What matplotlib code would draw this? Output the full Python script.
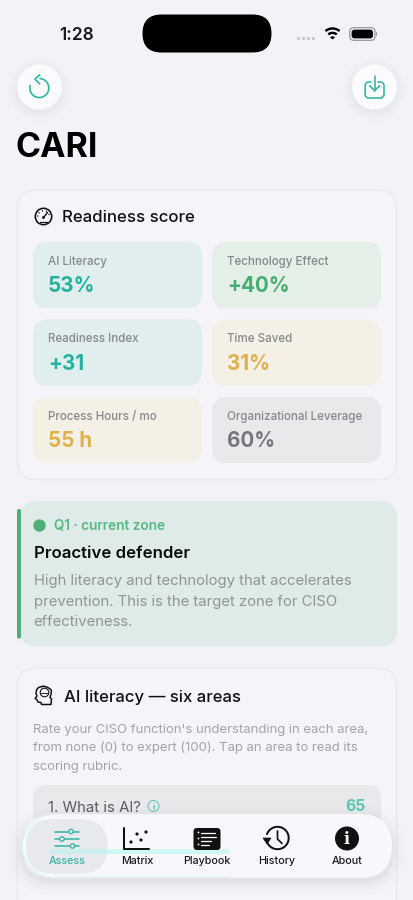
import numpy as np
import matplotlib
matplotlib.use("Agg")
import matplotlib.pyplot as plt
from matplotlib.patches import FancyBboxPatch, Circle, Polygon, Wedge

plt.rcParams['font.family'] = ['Inter', 'DejaVu Sans']

# ---- content ----
status_time = "1:28"
app_title = "CARI"
score_title = "Readiness score"
tile_labels = ["AI Literacy", "Technology Effect", "Readiness Index", "Time Saved",
               "Process Hours / mo", "Organizational Leverage"]
tile_values = ["53%", "+40%", "+31", "31%", "55 h", "60%"]
tile_tones = ["teal", "green", "teal", "amber", "amber", "gray"]
zone_tag = "Q1 · current zone"
zone_name = "Proactive defender"
zone_lines = ["High literacy and technology that accelerates",
              "prevention. This is the target zone for CISO",
              "effectiveness."]
area_title = "AI literacy — six areas"
area_lines = ["Rate your CISO function's understanding in each area,",
              "from none (0) to expert (100). Tap an area to read its",
              "scoring rubric."]
row_label = "1. What is AI?"
row_value = "65"
nav_labels = ["Assess", "Matrix", "Playbook", "History", "About"]

# ---- palette ----
BG = "#F2F2F8"
CARD = "#F5F5F9"
EDGE = "#E8E8EE"
TONE_FILL = {"teal": "#E0EEEE", "green": "#E3EFE7", "amber": "#F5F0E6", "gray": "#E9E9EC"}
TONE_TEXT = {"teal": "#22B2A0", "green": "#46AE72", "amber": "#E0B04A", "gray": "#76767E"}
TEAL = "#35B5A5"
INK = "#111114"

fig = plt.figure(figsize=(4.14, 9.0), dpi=100, facecolor=BG)
ax = fig.add_axes([0, 0, 1, 1])
ax.set_xlim(0, 414)
ax.set_ylim(900, 0)
ax.axis("off")


def px(v):
    return v * 72 / 100


def rrect(x0, y0, x1, y1, r, fc, ec="none", lw=0.0, z=1, alpha=None):
    p = FancyBboxPatch((x0, y0), x1 - x0, y1 - y0,
                       boxstyle=f"round,pad=0,rounding_size={r}",
                       fc=fc, ec=ec, lw=lw, zorder=z, alpha=alpha)
    ax.add_patch(p)
    return p


def label(x, y, s, size, color=INK, weight="normal", ha="left", z=10):
    return ax.text(x, y, s, fontsize=px(size), color=color, fontweight=weight,
                   ha=ha, va="baseline", zorder=z)


def stroke(xs, ys, color, lw=1.5, z=9, cap="round"):
    ax.plot(xs, ys, color=color, lw=px(lw), solid_capstyle=cap,
            solid_joinstyle="round", zorder=z)


def arc(cx, cy, r, a0, a1, color, lw=1.5, z=9, cap="round"):
    t = np.radians(np.linspace(a0, a1, 60))
    stroke(cx + r * np.cos(t), cy - r * np.sin(t), color, lw, z, cap)


def ring(cx, cy, r, color, lw=1.5, z=9, fc="none"):
    ax.add_patch(Circle((cx, cy), r, fc=fc, ec=color, lw=px(lw), zorder=z))


def disc(cx, cy, r, color, z=9):
    ax.add_patch(Circle((cx, cy), r, fc=color, ec="none", zorder=z))


# ---- second card (under the nav) and first ----
rrect(17.5, 668.5, 396.5, 960, 18, CARD, EDGE, 0.9, z=1)
rrect(17.5, 190.5, 396.5, 479.5, 18, CARD, EDGE, 0.9, z=1)

# ---- status bar ----
label(59, 40, status_time, 17.4, "#1A1A1C", "semibold")
rrect(142.5, 14.5, 271.5, 52.5, 19, "#000000", z=5)
for dx in range(4):
    rrect(297 + dx * 5, 37, 300 + dx * 5, 40, 0.8, "#C9C9CD", z=5)
for r in (11, 6.6):
    arc(332.5, 39.5, r, 50, 130, "#000000", 2.4, cap="butt")
ax.add_patch(Wedge((332.5, 39.5), 3.2, 220, 320, fc="#000000", ec="none", zorder=9))
rrect(349.7, 27.7, 375, 40.3, 4, "none", "#8E8E93", 0.8, z=6)
rrect(351.6, 29.6, 373, 38.4, 2.8, "#000000", z=7)
rrect(376, 32, 377, 36, 0.5, "#9A9A9E", z=6)

# ---- round buttons ----
for cx in (39.5, 374.5):
    for i, (grow, a) in enumerate([(9, 0.012), (6, 0.014), (3.5, 0.016), (1.5, 0.018)]):
        disc(cx, 90, 22.5 + grow, "#70708A", z=2)
        ax.patches[-1].set_alpha(a)
    disc(cx, 87, 22.5, "#FBFBFD", z=3)

arc(39.3, 88, 9.5, 85, -195, TEAL, 1.7)
stroke([39.7, 35.0, 39.7], [74.8, 79, 84.0], TEAL, 1.7)
stroke([371, 368.5, 366.5, 365.2, 365.2, 367.5, 381.5, 384, 384, 382.5, 380.5, 378],
       [82, 82, 82.6, 84.5, 95.5, 98, 98, 95.5, 84.5, 82.6, 82, 82], TEAL, 1.6)
stroke([374.6, 374.6], [75.5, 90.5], TEAL, 1.6)
stroke([369.6, 374.6, 379.6], [85.7, 90.7, 85.7], TEAL, 1.6)

# ---- title ----
label(16, 157, app_title, 34, "#000000", "bold")

# ---- readiness card ----
ring(43.5, 216.5, 8.2, INK, 1.6)
stroke([43.5, 47.5], [217.5, 212.5], INK, 1.4)
disc(43.5, 217.5, 1.4, INK)
for a in (20, 60, 100, 140, 175):
    ang = np.radians(a)
    stroke([43.5 + 5.5 * np.cos(ang), 43.5 + 6.2 * np.cos(ang)],
           [216.5 - 5.5 * np.sin(ang), 216.5 - 6.2 * np.sin(ang)], INK, 1.1)
stroke([40, 47], [222, 222], INK, 1.2)
label(62.5, 222.5, score_title, 16.8, INK, "medium")

col_x = [(33, 202), (212, 381)]
row_y = [(242, 308.5), (319.5, 386), (397, 463)]
for i, (lab, val, tone) in enumerate(zip(tile_labels, tile_values, tile_tones)):
    x0, x1 = col_x[i % 2]
    y0, y1 = row_y[i // 2]
    rrect(x0, y0, x1, y1, 15, TONE_FILL[tone], z=2)
    label(x0 + 15, y0 + 22.7, lab, 11.6, "#85898B", "medium")
    label(x0 + 15, y0 + 50, val, 20.6, TONE_TEXT[tone], "bold")

# ---- zone card ----
rrect(20, 501, 397, 646.5, 17, "#DFEBE8", z=2)
rrect(17, 509, 21, 638.5, 1.6, "#4CB077", z=3)
disc(39.5, 525.5, 6.2, "#4CB077")
label(54, 530, zone_tag, 13.6, "#55B981", "semibold")
label(33.7, 558, zone_name, 16.8, "#0A0A0C", "semibold")
for j, line in enumerate(zone_lines):
    label(33.7, 585.5 + j * 20.5, line, 14.85, "#8D9695")

# ---- literacy card ----
head_x = [42, 38.5, 36.5, 36, 37, 35.2, 37, 38, 41, 41.5, 51, 51.5, 50, 51.3, 51.3, 48, 44, 42]
head_y = [686.5, 687.5, 690, 693.5, 696, 698.5, 699.8, 702, 702.5, 704.5, 704.5, 699, 697.5, 693, 690, 687.5, 686.2, 686.5]
stroke(head_x, head_y, INK, 1.5)
ring(44.5, 692.5, 4.3, INK, 1.1)
stroke([41, 48], [692.5, 692.5], INK, 0.9)
label(63.7, 702, area_title, 16.7, INK, "medium")
for j, line in enumerate(area_lines):
    label(33.5, 733 + j * 18.5, line, 13.1, "#A2A2A8")

rrect(33, 785, 381, 850, 14, "#E9E9EC", z=2)
label(48, 811.5, row_label, 14.9, "#5A5A60")
ring(153.5, 806, 5.5, "#5FC5B8", 1.0)
ax.text(153.5, 809.7, "i", fontsize=px(9.5), color="#5FC5B8", ha="center", va="baseline",
        fontweight="semibold", zorder=10)
label(365.5, 811, row_value, 15.6, "#5CC4B7", "bold", ha="right")

# ---- nav bar ----
for grow, a in [(14, 0.012), (10, 0.016), (7, 0.02), (4, 0.026), (2, 0.03)]:
    rrect(22 - grow, 816 - grow + 4, 392 + grow, 878 + grow + 3, 32 + grow, "#50506A", z=20, alpha=a)
rrect(22, 814, 392, 878, 32, "#F8F8FC", z=21)
arc(54, 846, 32, 95, 265, "#D2F3EE", 1.5, z=22)
stroke([54, 230], [877.3, 877.3], "#DDF5F2", 1.5, z=22, cap="butt")
rrect(26, 819, 107.5, 873.5, 27, "#E8E9EC", z=22)
stroke([49.5, 229.5], [850.8, 850.8], "#CFF8F3", 5, z=23, cap="butt")
stroke([49.5, 107], [850.8, 850.8], "#CDEFEC", 5, z=23, cap="butt")

nav_x = [67, 137, 207, 277, 347]
nav_colors = [TEAL, "#1C1C20", "#1C1C20", "#1C1C20", "#1C1C20"]
for x, lab, c in zip(nav_x, nav_labels, nav_colors):
    label(x, 864.5, lab, 10.7, c, "medium", ha="center", z=30)

# sliders icon
for y, kx in [(831.5, 71), (839, 62), (846, 72.5)]:
    stroke([55, 79], [y, y], TEAL, 1.6, z=26)
    ring(kx, y, 2.2, TEAL, 1.3, z=27, fc="#E8E9EC")

# scatter icon
stroke([124.5, 124.5, 149], [828, 849, 849], INK, 2.0, z=26)
for dx, dy in [(131, 842), (137, 834), (141, 840), (146, 832)]:
    disc(dx, dy, 1.6, INK, z=27)

# playbook icon
rrect(193.5, 828, 220.5, 850, 3.5, INK, z=26)
for y in (832.5, 838.5, 844.5):
    disc(198.5, y, 0.9, "#F8F8FC", z=27)
stroke([201.5, 215.5], [832.5, 832.5], "#F8F8FC", 1.3, z=27)
stroke([201.5, 216.5], [836.5, 836.5], "#F8F8FC", 1.3, z=27)
stroke([201.5, 211.5], [840.5, 840.5], "#F8F8FC", 1.3, z=27)
stroke([201.5, 209.5], [844.5, 844.5], "#F8F8FC", 1.3, z=27)

# history icon
arc(277.5, 838, 11.2, 160, -170, INK, 2.0, z=26)
ax.add_patch(Polygon([[263, 838], [271, 838], [267, 844]], fc=INK, ec=INK, lw=0.5, zorder=27))
stroke([277.5, 277.5, 282], [831, 839, 843.5], INK, 1.7, z=27)

# about icon
disc(347, 838.5, 12, INK, z=26)
ax.text(347, 843.5, "i", fontsize=px(16), color="#F8F8FC", ha="center", va="baseline",
        fontfamily="DejaVu Serif", fontweight="bold", zorder=27)

fig.savefig("out.png", dpi=100, facecolor=BG)
